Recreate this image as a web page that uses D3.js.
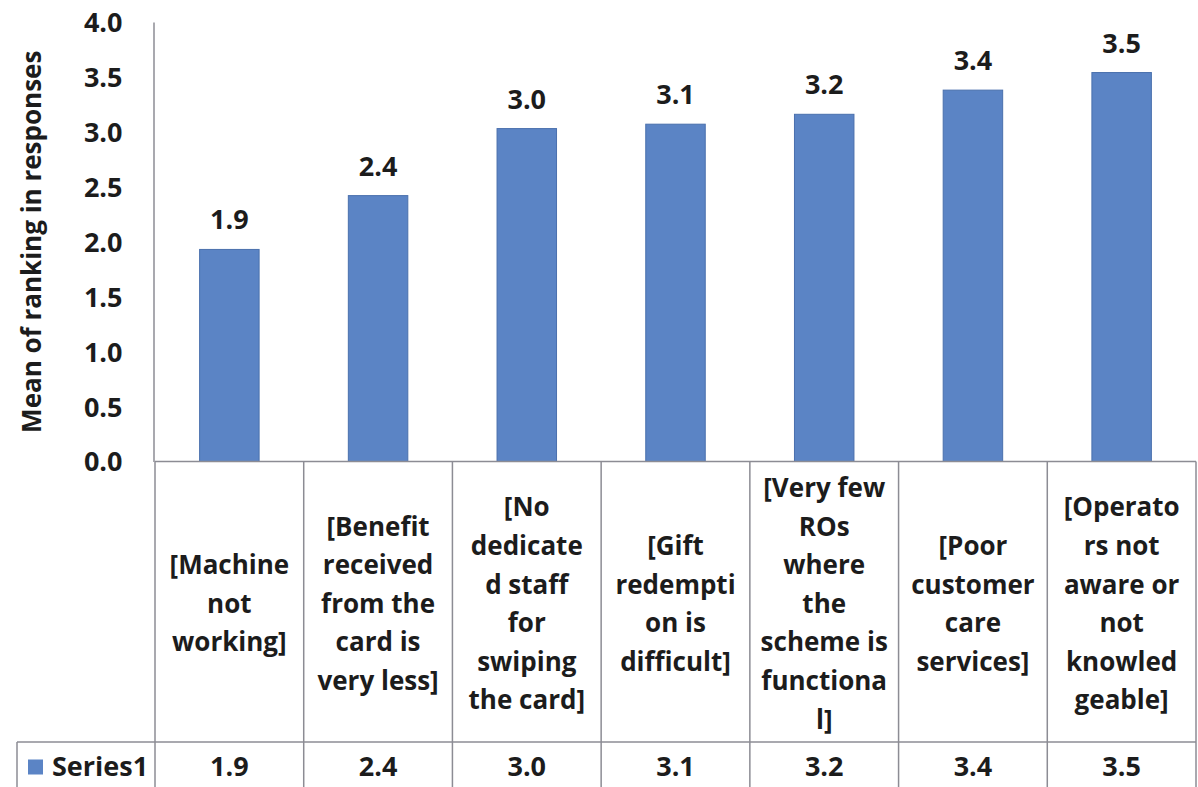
<!DOCTYPE html>
<html>
<head>
<meta charset="utf-8">
<script src="https://cdn.jsdelivr.net/npm/d3@7"></script>
<style>
  html, body { margin: 0; padding: 0; background: #fff; }
  svg { display: block; font-family: "Open Sans", Lato, sans-serif; font-weight: bold; }
</style>
</head>
<body>
<svg id="chart" width="1198" height="787"></svg>
<script>
// Category labels, one entry per wrapped line as they appear in the data table
const categories = [
  ["[Machine", "not", "working]"],
  ["[Benefit", "received", "from the", "card is", "very less]"],
  ["[No", "dedicate", "d staff", "for", "swiping", "the card]"],
  ["[Gift", "redempti", "on is", "difficult]"],
  ["[Very few", "ROs", "where", "the", "scheme is", "functiona", "l]"],
  ["[Poor", "customer", "care", "services]"],
  ["[Operato", "rs not", "aware or", "not", "knowled", "geable]"]
];
const seriesName = "Series1";
const seriesValues = [1.93, 2.42, 3.03, 3.07, 3.16, 3.38, 3.54];
const yTicks = [0, 0.5, 1, 1.5, 2, 2.5, 3, 3.5, 4];
const yTitle = "Mean of ranking in responses";

const barColor = "#5b84c5";
const gridColor = "#8c8c94";
const textColor = "#1c1c1c";
const fontFamily = "'Open Sans', Lato, sans-serif";
const fmt = d3.format(".1f");

const svg = d3.select("#chart");
const plotLeft = 155, plotRight = 1196, plotTop = 22, zeroY = 461.5;
const tableMid = 742, tableBottom = 800;

const keys = categories.map((c, i) => i);
const x = d3.scaleBand().domain(keys).range([plotLeft, plotRight]).padding(0);
const y = d3.scaleLinear().domain([0, 4]).range([zeroY, plotTop]);
const barW = x.bandwidth() * 0.4;

// Value axis
const yAxis = svg.append("g")
  .attr("transform", `translate(${plotLeft - 1.5},0)`)
  .call(d3.axisLeft(y).tickValues(yTicks).tickFormat(fmt).tickSize(0).tickPadding(31));
yAxis.select(".domain").attr("stroke", gridColor).attr("stroke-width", 1.5);
yAxis.selectAll("text")
  .attr("font-family", fontFamily)
  .attr("font-weight", "bold")
  .attr("font-size", 27)
  .attr("fill", textColor)
  .attr("dy", "0.35em");

svg.append("text")
  .attr("transform", `translate(31,${(plotTop + zeroY) / 2}) rotate(-90)`)
  .attr("text-anchor", "middle")
  .attr("dominant-baseline", "central")
  .attr("font-size", 26)
  .attr("fill", textColor)
  .text(yTitle);

// Bars
svg.append("g").selectAll("rect")
  .data(seriesValues)
  .join("rect")
  .attr("x", (d, i) => x(i) + (x.bandwidth() - barW) / 2)
  .attr("y", d => y(d))
  .attr("width", barW)
  .attr("height", d => y(0) - y(d))
  .attr("fill", barColor)
  .attr("stroke", "#4a70ad")
  .attr("stroke-width", 1);

// Value labels above bars
svg.append("g").selectAll("text")
  .data(seriesValues)
  .join("text")
  .attr("x", (d, i) => x(i) + x.bandwidth() / 2)
  .attr("y", d => y(d) - 20)
  .attr("text-anchor", "middle")
  .attr("font-size", 27)
  .attr("fill", textColor)
  .text(d => fmt(d));

// Data table grid
const grid = svg.append("g").attr("stroke", gridColor).attr("stroke-width", 1.5).attr("fill", "none");
grid.append("line").attr("x1", plotLeft).attr("x2", plotRight).attr("y1", zeroY).attr("y2", zeroY);
grid.append("line").attr("x1", 17).attr("x2", plotRight).attr("y1", tableMid).attr("y2", tableMid);
grid.append("line").attr("x1", 17).attr("x2", 17).attr("y1", tableMid).attr("y2", tableBottom);
grid.selectAll("line.col")
  .data(keys.concat([keys.length]))
  .join("line")
  .attr("class", "col")
  .attr("x1", i => i < keys.length ? x(i) : plotRight)
  .attr("x2", i => i < keys.length ? x(i) : plotRight)
  .attr("y1", zeroY)
  .attr("y2", tableBottom);

// Category labels inside the table
const lineH = 38.6;
const cellMid = (zeroY + tableMid) / 2 + 2;
const cat = svg.append("g").selectAll("g")
  .data(categories)
  .join("g")
  .attr("transform", (d, i) => `translate(${x(i) + x.bandwidth() / 2},${cellMid})`);
cat.selectAll("text")
  .data(d => d.map((t, j) => ({ t, j, n: d.length })))
  .join("text")
  .attr("y", d => (d.j - (d.n - 1) / 2) * lineH)
  .attr("dy", "0.35em")
  .attr("text-anchor", "middle")
  .attr("font-size", 26)
  .attr("fill", textColor)
  .text(d => d.t);

// Series row: legend key and values
const rowY = (tableMid + 787) / 2 + 2;
svg.append("rect")
  .attr("x", 28).attr("y", rowY - 7).attr("width", 15).attr("height", 15)
  .attr("fill", barColor);
svg.append("text")
  .attr("x", 52).attr("y", rowY).attr("dy", "0.35em")
  .attr("font-size", 27).attr("fill", textColor)
  .text(seriesName);
svg.append("g").selectAll("text")
  .data(seriesValues)
  .join("text")
  .attr("x", (d, i) => x(i) + x.bandwidth() / 2)
  .attr("y", rowY)
  .attr("dy", "0.35em")
  .attr("text-anchor", "middle")
  .attr("font-size", 27)
  .attr("fill", textColor)
  .text(d => fmt(d));
</script>
</body>
</html>
